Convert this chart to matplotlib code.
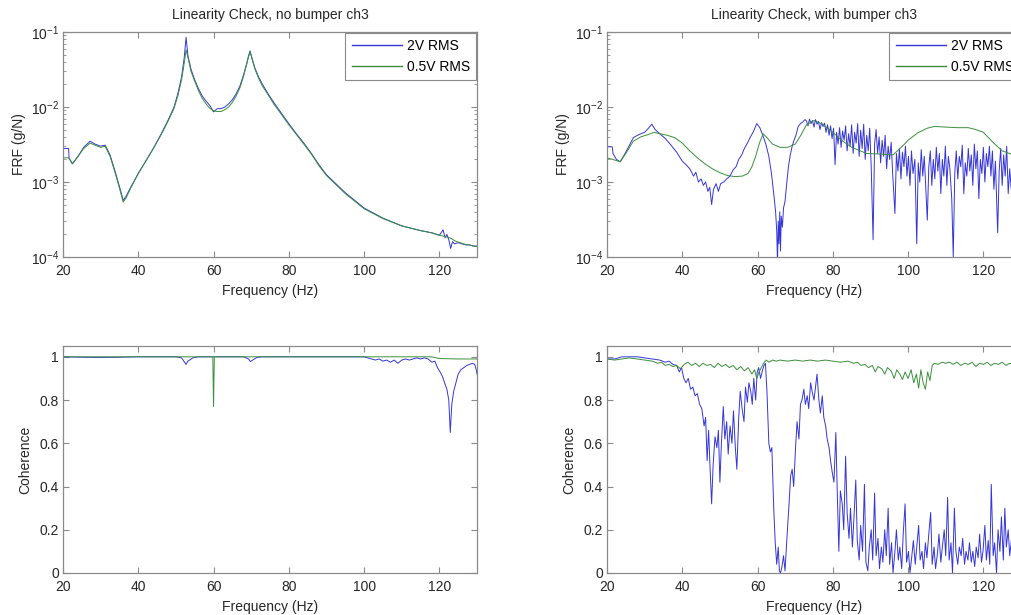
import matplotlib
matplotlib.use("Agg")
import matplotlib.pyplot as plt
from matplotlib.ticker import LogLocator, NullLocator

# ---------------- data ----------------
# Top-left: FRF, no bumper
f_nb = [20, 21.5, 21.6, 22.5, 24, 25.5, 27.2, 28.5, 30, 31.2, 32.5, 34, 35.2, 36, 36.8, 38,
        40, 42, 44, 46, 48, 49.5, 50.5, 51.5, 52.2, 52.7, 53.2, 54, 55, 56, 57, 58, 59, 60,
        61, 62, 63, 64, 65, 66, 67, 68, 68.8, 69.3, 69.7, 70.2, 71, 72, 73, 74.5, 76, 78, 80,
        82, 84, 86, 88, 90, 95, 100, 105, 110, 115, 118, 120, 121, 121.5, 122, 122.5, 123,
        123.5, 124, 125, 126, 127, 128, 129, 130]
frf_nb_2v = [2.8e-3, 2.8e-3, 2.1e-3, 1.75e-3, 2.2e-3, 2.9e-3, 3.5e-3, 3.2e-3, 3.0e-3, 3.1e-3,
             2.3e-3, 1.3e-3, 8.0e-4, 5.7e-4, 6.5e-4, 8.5e-4, 1.3e-3, 1.9e-3, 2.8e-3, 4.3e-3,
             6.8e-3, 1.0e-2, 1.5e-2, 2.5e-2, 4.5e-2, 8.5e-2, 4.8e-2, 3.2e-2, 2.3e-2, 1.75e-2,
             1.4e-2, 1.2e-2, 1.05e-2, 8.6e-3, 9.5e-3, 9.5e-3, 1.0e-2, 1.1e-2, 1.25e-2, 1.5e-2,
             1.9e-2, 2.7e-2, 3.8e-2, 4.8e-2, 5.6e-2, 4.5e-2, 3.3e-2, 2.5e-2, 2.0e-2, 1.5e-2,
             1.15e-2, 8.3e-3, 6.0e-3, 4.4e-3, 3.3e-3, 2.4e-3, 1.7e-3, 1.25e-3, 7.2e-4, 4.5e-4,
             3.3e-4, 2.6e-4, 2.25e-4, 2.1e-4, 1.95e-4, 2.3e-4, 1.8e-4, 2.0e-4, 1.7e-4, 1.3e-4,
             1.6e-4, 1.5e-4, 1.55e-4, 1.5e-4, 1.45e-4, 1.45e-4, 1.4e-4, 1.4e-4]
frf_nb_05v = [2.1e-3, 2.1e-3, 2.05e-3, 1.75e-3, 2.2e-3, 2.8e-3, 3.3e-3, 3.1e-3, 2.9e-3, 3.0e-3,
              2.2e-3, 1.25e-3, 7.6e-4, 5.4e-4, 6.2e-4, 8.3e-4, 1.3e-3, 1.9e-3, 2.8e-3, 4.2e-3,
              6.6e-3, 9.6e-3, 1.4e-2, 2.3e-2, 3.8e-2, 5.8e-2, 4.6e-2, 3.0e-2, 2.2e-2, 1.65e-2,
              1.3e-2, 1.1e-2, 9.6e-3, 8.9e-3, 8.7e-3, 8.7e-3, 9.2e-3, 1.0e-2, 1.15e-2, 1.4e-2,
              1.8e-2, 2.6e-2, 3.7e-2, 4.7e-2, 5.5e-2, 4.4e-2, 3.2e-2, 2.4e-2, 1.9e-2, 1.45e-2,
              1.1e-2, 8.0e-3, 5.8e-3, 4.3e-3, 3.2e-3, 2.35e-3, 1.65e-3, 1.22e-3, 7.0e-4, 4.4e-4,
              3.25e-4, 2.6e-4, 2.25e-4, 2.1e-4, 1.95e-4, 1.9e-4, 1.88e-4, 1.85e-4, 1.82e-4,
              1.78e-4, 1.72e-4, 1.65e-4, 1.58e-4, 1.52e-4, 1.47e-4, 1.45e-4, 1.4e-4, 1.38e-4]

# Top-right: FRF, with bumper, 2V RMS
f_wb_2v = [20, 21.4, 21.6, 22.5, 23.5, 25, 27, 28.5, 30, 31, 31.9, 32.8, 34, 35.5, 37, 38.5,
           40, 41, 42, 43, 43.6, 44.3, 45, 45.6, 46.2, 46.8, 47.3, 47.8, 48.3, 49, 49.6, 50.2,
           51, 51.8, 52.7, 53.5, 54.3, 55, 55.8, 56.5, 57.3, 58, 58.8, 59.8, 60.6, 61.4, 62.2,
           63, 63.7, 64.3, 64.8, 65.1, 65.3, 65.5, 65.7, 65.9, 66.1, 66.3, 66.6, 66.9, 67.3,
           67.7, 68.2, 68.7, 69.2, 69.6, 70.2, 70.8, 71.4, 72, 72.6,
           73.0, 73.4, 73.8, 74.2, 74.6, 75.0, 75.4, 75.8, 76.2, 76.6, 77.0, 77.4, 77.8, 78.2,
           78.6, 79.0, 79.4, 79.8, 80.2, 80.6, 81.0, 81.4, 81.8, 82.2, 82.6, 83.0, 83.4, 83.8,
           84.2, 84.6, 85.0, 85.4, 85.8, 86.2, 86.6, 87.0, 87.4, 87.8, 88.2, 88.6, 89.0, 89.4,
           89.8, 90.2, 90.7, 91.1, 91.5, 91.9, 92.3, 92.7, 93.1, 93.5, 93.9, 94.3, 94.7, 95.1,
           95.5, 95.9, 96.5, 96.9, 97.3, 97.7, 98.1, 98.5, 98.9, 99.3, 99.7, 100.1, 100.5,
           100.9, 101.3, 101.8, 102.3, 102.7, 103.1, 103.5, 103.9, 104.3, 104.7, 105.1, 105.5,
           105.9, 106.3, 106.7, 107.1, 107.5, 107.9, 108.3, 108.7, 109.1, 109.5, 109.9, 110.3,
           110.7, 111.1, 111.6, 112.0, 112.4, 112.8, 113.2, 113.6, 114.0, 114.4, 114.8, 115.2,
           115.6, 116.0, 116.4, 116.8, 117.2, 117.6, 118.0, 118.4, 118.8, 119.2, 119.6, 120.0,
           120.4, 120.8, 121.2, 121.6, 122.0, 122.4, 122.8, 123.2, 123.8, 124.2, 124.6, 125.0,
           125.4, 125.8, 126.2, 126.6, 127.0, 127.4, 127.8, 128.2, 128.6, 129.0, 129.4, 129.8,
           130.0]
frf_wb_2v = [2.95e-3, 2.95e-3, 2.4e-3, 2.0e-3, 1.86e-3, 2.5e-3, 3.9e-3, 4.3e-3, 4.6e-3, 5.2e-3,
             5.9e-3, 5.0e-3, 4.4e-3, 3.8e-3, 3.1e-3, 2.5e-3, 1.9e-3, 1.7e-3, 1.5e-3, 1.2e-3,
             1.35e-3, 1.0e-3, 1.1e-3, 9.0e-4, 1.0e-3, 7.5e-4, 8.5e-4, 5.0e-4, 8.0e-4, 9.5e-4,
             7.5e-4, 9.5e-4, 1.0e-3, 1.1e-3, 1.2e-3, 1.45e-3, 1.6e-3, 2.0e-3, 2.3e-3, 2.8e-3,
             3.3e-3, 3.9e-3, 4.6e-3, 6.0e-3, 5.3e-3, 4.2e-3, 3.2e-3, 2.2e-3, 1.3e-3, 7.0e-4,
             4.0e-4, 2.2e-4, 8.0e-5, 3.0e-4, 1.5e-4, 4.0e-4, 1.2e-4, 3.5e-4, 2.5e-4, 4.5e-4,
             5.5e-4, 9.0e-4, 1.6e-3, 2.3e-3, 3.0e-3, 3.5e-3, 4.2e-3, 5.5e-3, 6.0e-3, 6.3e-3,
             6.8e-3,
             6.5e-3, 5.6e-3, 6.9e-3, 6.0e-3, 6.6e-3, 5.4e-3, 6.8e-3, 5.9e-3, 6.4e-3, 5.0e-3,
             6.2e-3, 5.5e-3, 6.1e-3, 4.6e-3, 5.8e-3, 4.2e-3, 5.6e-3, 3.8e-3, 5.2e-3, 1.7e-3,
             4.6e-3, 3.2e-3, 5.3e-3, 2.9e-3, 4.8e-3, 3.6e-3, 5.6e-3, 2.6e-3, 4.4e-3, 3.0e-3,
             5.8e-3, 2.4e-3, 4.6e-3, 3.3e-3, 6.0e-3, 2.2e-3, 4.9e-3, 2.8e-3, 5.9e-3, 2.0e-3,
             4.2e-3, 2.6e-3, 5.2e-3, 1.6e-3, 1.7e-4, 3.2e-3, 5.0e-3, 2.4e-3, 4.0e-3, 1.8e-3,
             3.6e-3, 2.2e-3, 4.2e-3, 1.5e-3, 3.0e-3, 2.0e-3, 3.4e-3, 1.3e-3, 3.8e-4, 2.4e-3,
             1.4e-3, 2.8e-3, 1.1e-3, 2.5e-3, 1.6e-3, 3.0e-3, 1.2e-3, 2.2e-3, 9.0e-4, 2.6e-3,
             1.3e-3, 2.0e-3, 1.5e-4, 1.8e-3, 1.0e-3, 2.7e-3, 1.2e-3, 2.2e-3, 8.0e-4, 3.1e-4,
             1.6e-3, 2.6e-3, 9.0e-4, 2.0e-3, 1.1e-3, 2.9e-3, 1.4e-3, 2.4e-3, 7.0e-4, 2.0e-3,
             1.2e-3, 3.0e-3, 9.0e-4, 2.2e-3, 1.5e-3, 6.0e-4, 1.0e-4, 1.3e-3, 2.6e-3, 1.1e-3,
             2.2e-3, 1.6e-3, 3.1e-3, 7.0e-4, 1.8e-3, 1.2e-3, 2.8e-3, 1.4e-3, 2.3e-3, 9.0e-4,
             3.2e-3, 1.5e-3, 2.6e-3, 6.0e-4, 2.0e-3, 1.3e-3, 2.9e-3, 1.0e-3, 2.4e-3, 1.6e-3,
             3.0e-3, 1.2e-3, 2.6e-3, 8.0e-4, 1.9e-3, 2.1e-4, 1.4e-3, 2.8e-3, 9.0e-4, 2.3e-3,
             1.2e-3, 3.0e-3, 7.0e-4, 1.5e-3, 8.0e-4, 1.1e-3, 6.0e-4, 1.0e-3, 7.0e-4, 1.3e-3,
             8.0e-4, 1.0e-3]

# Top-right: FRF, with bumper, 0.5V RMS
f_wb_05v = [20, 21.5, 23.5, 25, 27, 29, 31, 32.5, 34, 36, 38, 40, 42, 44, 46, 48, 50, 52, 54,
            56, 57.5, 58.5, 59.5, 60.5, 61.5, 62.5, 64, 66, 68, 70, 71.5, 73, 75, 77, 80, 82,
            85, 89, 93, 96, 98.5, 100, 102.5, 105, 107, 110, 113, 116, 118, 120, 122.5, 125,
            127.5, 130]
frf_wb_05v = [2.1e-3, 2.0e-3, 1.86e-3, 2.4e-3, 3.5e-3, 4.0e-3, 4.3e-3, 4.6e-3, 4.4e-3, 4.2e-3,
              3.9e-3, 3.3e-3, 2.6e-3, 2.1e-3, 1.75e-3, 1.5e-3, 1.33e-3, 1.22e-3, 1.18e-3,
              1.2e-3, 1.3e-3, 1.6e-3, 2.2e-3, 3.3e-3, 4.4e-3, 3.9e-3, 3.2e-3, 2.9e-3, 2.9e-3,
              3.2e-3, 4.2e-3, 5.8e-3, 6.6e-3, 6.0e-3, 4.6e-3, 3.7e-3, 2.9e-3, 2.4e-3, 2.35e-3,
              2.3e-3, 3.0e-3, 3.6e-3, 4.5e-3, 5.2e-3, 5.5e-3, 5.4e-3, 5.3e-3, 5.3e-3, 5.0e-3,
              4.6e-3, 3.4e-3, 2.6e-3, 2.35e-3, 2.2e-3]

# Bottom-left: coherence, no bumper
f_cnb_2v = [20, 25, 30, 35, 40, 50, 51.5, 52.3, 52.7, 53.2, 54.5, 56, 60, 68, 69.3, 69.8, 70.4,
            71.5, 73, 100, 101, 102, 103, 104, 105, 106, 107, 108, 109, 110, 111, 112, 113,
            114, 115, 116, 117, 118, 118.8, 119.5, 120.2, 120.8, 121.4, 122, 122.5, 122.9,
            123.3, 123.8, 124.4, 125, 125.7, 126.5, 127.3, 128, 128.8, 129.4, 129.8, 130]
coh_nb_2v = [1.0, 0.998, 0.997, 0.998, 1.0, 1.0, 0.995, 0.975, 0.965, 0.98, 0.995, 1.0, 1.0,
             1.0, 0.99, 0.978, 0.985, 0.997, 1.0, 1.0, 0.995, 0.99, 0.985, 0.99, 0.98, 0.985,
             0.975, 0.985, 0.97, 0.985, 0.99, 0.985, 0.99, 0.995, 0.99, 0.995, 0.99, 0.975,
             0.98, 0.95, 0.93, 0.91, 0.88, 0.85, 0.8, 0.65, 0.78, 0.84, 0.88, 0.92, 0.94, 0.95,
             0.96, 0.965, 0.97, 0.965, 0.94, 0.92]
f_cnb_05v = [20, 59.8, 60.0, 60.2, 118, 120, 125, 130]
coh_nb_05v = [1.0, 1.0, 0.77, 1.0, 1.0, 0.992, 0.99, 0.99]

# Bottom-right: coherence, with bumper
f_cwb_2v = [20, 22, 24, 26, 28, 30, 32, 34, 35.5, 36.5, 37.5, 38.5, 39.2, 39.8, 40.4, 41.0,
            41.6, 42.2, 42.8, 43.4, 44.0, 44.6, 45.2, 45.8, 46.2, 46.6, 47.0, 47.4, 47.8, 48.2,
            48.7, 49.2, 49.6, 50.0, 50.4, 50.9, 51.3, 51.8, 52.2, 52.7, 53.2, 53.6, 54.1, 54.5,
            55.0, 55.4, 55.9, 56.4, 56.8, 57.3, 57.7, 58.2, 58.6, 59.0, 59.5, 59.9, 60.3, 60.8,
            61.2, 61.7, 62.1, 62.5, 63.0, 63.4, 63.8, 64.3, 64.7, 65.1, 65.5, 65.8, 66.1, 66.5,
            66.9, 67.3, 67.8, 68.3, 68.8, 69.2, 69.6, 70.1, 70.5, 71.0, 71.4, 71.8, 72.3, 72.7,
            73.2, 73.6, 74.1, 74.5, 75.0, 75.4, 75.8, 76.3, 76.7, 77.2, 77.6, 78.1, 78.5, 79.0,
            79.4, 79.9, 80.3, 80.8, 81.2, 81.6, 82.0, 82.5, 82.9, 83.4, 83.8, 84.3, 84.7, 85.2,
            85.6, 86.1, 86.5, 87.0, 87.4, 87.9, 88.4, 88.8, 89.3, 89.7, 90.2, 90.6, 91.1, 91.5,
            92.0, 92.4, 92.9, 93.3, 93.8, 94.2, 94.7, 95.1, 95.6, 96.0, 96.5, 96.9, 97.4, 97.8,
            98.3, 98.7, 99.2, 99.6, 100.1, 100.5, 101.0, 101.4, 101.9, 102.3, 102.8, 103.2,
            103.7, 104.1, 104.6, 105.0, 105.5, 106.0, 106.4, 106.9, 107.3, 107.8, 108.2, 108.7,
            109.1, 109.6, 110.0, 110.5, 110.9, 111.4, 111.8, 112.3, 112.7, 113.2, 113.6, 114.1,
            114.5, 115.0, 115.4, 115.9, 116.3, 116.8, 117.2, 117.7, 118.1, 118.6, 119.0, 119.5,
            119.9, 120.4, 120.8, 121.3, 121.7, 122.1, 122.6, 123.0, 123.5, 123.9, 124.4, 124.8,
            125.3, 125.7, 126.1, 126.6, 127.0, 127.5, 128.0, 128.4, 128.9, 129.3, 129.7, 130.0]
coh_wb_2v = [0.99, 0.99, 1.0, 1.0, 1.0, 0.995, 0.99, 0.985, 0.975, 0.98, 0.965, 0.96, 0.93,
             0.95, 0.9, 0.88, 0.9, 0.85, 0.86, 0.82, 0.83, 0.78, 0.76, 0.68, 0.72, 0.52, 0.66,
             0.48, 0.32, 0.5, 0.63, 0.58, 0.66, 0.42, 0.6, 0.77, 0.62, 0.7, 0.55, 0.68, 0.6,
             0.75, 0.58, 0.48, 0.72, 0.84, 0.76, 0.7, 0.86, 0.79, 0.88, 0.84, 0.78, 0.9, 0.8,
             0.93, 0.95, 0.9, 0.93, 0.96, 0.97, 0.84, 0.6, 0.56, 0.58, 0.3, 0.14, 0.04, 0.12,
             0.01, 0.0, 0.03, 0.08, 0.01, 0.16, 0.3, 0.45, 0.48, 0.4, 0.58, 0.7, 0.62, 0.78,
             0.8, 0.85, 0.78, 0.82, 0.76, 0.88, 0.84, 0.8, 0.86, 0.92, 0.8, 0.74, 0.82, 0.72,
             0.68, 0.62, 0.58, 0.52, 0.46, 0.42, 0.65, 0.36, 0.1, 0.38, 0.32, 0.2, 0.54, 0.28,
             0.16, 0.3, 0.12, 0.25, 0.43, 0.15, 0.06, 0.22, 0.1, 0.41, 0.05, 0.01, 0.12, 0.2,
             0.06, 0.37, 0.08, 0.16, 0.02, 0.12, 0.05, 0.2, 0.08, 0.3, 0.04, 0.14, 0.0, 0.1,
             0.2, 0.06, 0.12, 0.02, 0.18, 0.32, 0.05, 0.1, 0.0, 0.08, 0.15, 0.04, 0.12, 0.22,
             0.06, 0.1, 0.02, 0.14, 0.07, 0.18, 0.28, 0.04, 0.12, 0.02, 0.09, 0.18, 0.05, 0.12,
             0.2, 0.08, 0.35, 0.06, 0.14, 0.0, 0.3, 0.1, 0.04, 0.12, 0.08, 0.16, 0.04, 0.1,
             0.06, 0.14, 0.05, 0.1, 0.03, 0.12, 0.07, 0.18, 0.05, 0.1, 0.22, 0.06, 0.15, 0.04,
             0.41, 0.08, 0.14, 0.0, 0.2, 0.1, 0.26, 0.06, 0.3, 0.12, 0.2, 0.08, 0.16, 0.05,
             0.12, 0.22, 0.08, 0.15, 0.1]
f_cwb_05v = [20, 22, 24, 26, 28, 30, 32, 33.5, 34.5, 35.5, 36.5, 37.5, 38.5, 39.5, 40.5, 41.5,
             42.5, 43.5, 44.5, 45.5, 46.5, 47.5, 48.5, 49.5, 50.5, 51.5, 52.5, 53.5, 54.5,
             55.5, 56.5, 57.5, 58.5, 59.2, 59.8, 60.4, 61, 61.6, 62.3, 63, 64, 65, 66, 68, 70,
             72, 74, 76, 78, 80, 82, 84, 85.5, 86.5, 87.5, 88.5, 89.5, 90.5, 91.3, 92, 93,
             93.8, 94.5, 95.5, 96.3, 97, 97.8, 98.5, 99.2, 100, 100.8, 101.5, 102.2, 102.8,
             103.4, 104, 104.6, 105.2, 105.8, 106.4, 107, 108, 109, 110, 111, 112, 113, 114,
             115, 116, 117, 118, 119, 120, 121, 122, 123, 124, 125, 126, 127, 128, 129, 130]
coh_wb_05v = [0.99, 0.985, 0.99, 0.995, 0.99, 0.985, 0.98, 0.97, 0.975, 0.96, 0.965, 0.955,
              0.96, 0.945, 0.965, 0.975, 0.96, 0.97, 0.955, 0.97, 0.96, 0.965, 0.95, 0.97,
              0.955, 0.965, 0.95, 0.96, 0.94, 0.955, 0.935, 0.95, 0.92, 0.94, 0.9, 0.93, 0.95,
              0.97, 0.985, 0.975, 0.985, 0.98, 0.985, 0.98, 0.985, 0.98, 0.985, 0.98, 0.985,
              0.98, 0.975, 0.98, 0.97, 0.975, 0.96, 0.965, 0.95, 0.96, 0.93, 0.955, 0.945, 0.92,
              0.95, 0.935, 0.9, 0.94, 0.92, 0.895, 0.93, 0.9, 0.94, 0.88, 0.92, 0.855, 0.94,
              0.88, 0.85, 0.93, 0.89, 0.96, 0.97, 0.965, 0.975, 0.97, 0.975, 0.965, 0.975, 0.96,
              0.97, 0.965, 0.975, 0.955, 0.97, 0.965, 0.975, 0.96, 0.97, 0.965, 0.975, 0.96,
              0.97, 0.965, 0.975, 0.97]

titles = ["Linearity Check, no bumper ch3", "Linearity Check, with bumper ch3"]
legend_labels = ["2V RMS", "0.5V RMS"]
x_ticks = [20, 40, 60, 80, 100, 120]
coh_ticks = [0, 0.2, 0.4, 0.6, 0.8, 1]

# ---------------- style ----------------
plt.rcParams["font.family"] = ["Liberation Sans", "DejaVu Sans"]
plt.rcParams["font.size"] = 10
plt.rcParams["mathtext.fontset"] = "custom"
plt.rcParams["mathtext.rm"] = "Liberation Sans"
plt.rcParams["mathtext.it"] = "Liberation Sans"
plt.rcParams["mathtext.default"] = "regular"

BLUE = "#3535d8"
GREEN = "#3a8f3a"
SPINE = "#8a8a8a"
TXT = "#262626"
LW = 0.7
FS = 10

W, H = 1012, 615
fig = plt.figure(figsize=(W / 100, H / 100), dpi=100)

def px_axes(left, top, right, bottom):
    return fig.add_axes([left / W, 1 - bottom / H, (right - left) / W, (bottom - top) / H])

ax_tl = px_axes(63, 32, 477, 257)
ax_tr = px_axes(607, 32, 1021, 257)
ax_bl = px_axes(63, 346, 477, 573)
ax_br = px_axes(607, 346, 1021, 573)

def style(ax):
    for s in ax.spines.values():
        s.set_color(SPINE)
        s.set_linewidth(0.9)
    ax.tick_params(which="both", direction="in", top=True, right=True,
                   colors=SPINE, labelcolor=TXT, labelsize=FS)
    ax.tick_params(axis="x", pad=5)
    ax.tick_params(axis="y", pad=3)
    ax.tick_params(which="major", length=4)
    ax.tick_params(which="minor", length=2)
    ax.set_xlim(20, 130)
    ax.set_xticks(x_ticks)
    ax.xaxis.set_minor_locator(NullLocator())
    ax.set_xlabel("Frequency (Hz)", color=TXT, fontsize=FS, labelpad=4)

# FRF plots
for ax, (fa, va), (fb, vb), title in [
    (ax_tl, (f_nb, frf_nb_2v), (f_nb, frf_nb_05v), titles[0]),
    (ax_tr, (f_wb_2v, frf_wb_2v), (f_wb_05v, frf_wb_05v), titles[1]),
]:
    ax.plot(fa, va, color=BLUE, lw=LW, label=legend_labels[0])
    ax.plot(fb, vb, color=GREEN, lw=LW, label=legend_labels[1])
    ax.set_yscale("log")
    ax.set_ylim(1e-4, 1e-1)
    ax.set_yticks([1e-4, 1e-3, 1e-2, 1e-1])
    ax.yaxis.set_minor_locator(LogLocator(base=10, subs=range(2, 10)))
    style(ax)
    ax.set_ylabel("FRF (g/N)", color=TXT, fontsize=FS, labelpad=3)
    ax.set_title(title, color=TXT, fontsize=FS, pad=9)
    leg = ax.legend(loc="upper right", bbox_to_anchor=(1.0, 1.0), borderaxespad=0.08,
                    fancybox=False, framealpha=1, edgecolor=SPINE, handlelength=3.6,
                    handletextpad=0.35, borderpad=0.45, labelspacing=0.45, fontsize=FS)
    leg.get_frame().set_linewidth(0.8)
    for hl in leg.get_lines():
        hl.set_linewidth(1.0)

# Coherence plots
for ax, (fa, va), (fb, vb) in [
    (ax_bl, (f_cnb_2v, coh_nb_2v), (f_cnb_05v, coh_nb_05v)),
    (ax_br, (f_cwb_2v, coh_wb_2v), (f_cwb_05v, coh_wb_05v)),
]:
    ax.plot(fa, va, color=BLUE, lw=LW)
    ax.plot(fb, vb, color=GREEN, lw=LW)
    ax.set_ylim(0, 1.05)
    ax.set_yticks(coh_ticks)
    ax.set_yticklabels(["0", "0.2", "0.4", "0.6", "0.8", "1"])
    style(ax)
    ax.set_ylabel("Coherence", color=TXT, fontsize=FS, labelpad=5)

fig.savefig("out.png", dpi=100)
